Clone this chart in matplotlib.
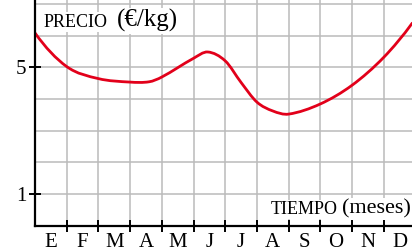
#!/usr/bin/env python3
import matplotlib
matplotlib.use('Agg')
import matplotlib.pyplot as plt
from matplotlib.path import Path
from matplotlib.patches import PathPatch

meses_pos = [0.0, 1.0, 2.0, 3.0, 3.6, 4.0, 5.0, 5.45, 6.0, 6.5,
             7.0, 7.5, 8.0, 9.0, 10.0, 11.0, 11.9]
precio = [6.08, 5.02, 4.64, 4.53, 4.54, 4.69, 5.28, 5.48, 5.20, 4.52,
          3.90, 3.62, 3.52, 3.84, 4.43, 5.31, 6.39]

meses = ['E', 'F', 'M', 'A', 'M', 'J', 'J', 'A', 'S', 'O', 'N', 'D']
y_ticks = [1, 5]


def smooth_path(xs, ys):
    """Hermite cubico por los puntos, como segmentos bezier."""
    n = len(xs)
    # pendientes interiores por diferencias centradas
    m = [0.0] * n
    for i in range(1, n - 1):
        m[i] = (ys[i + 1] - ys[i - 1]) / (xs[i + 1] - xs[i - 1])
    # extremos: pendiente "natural"
    m[0] = 2 * (ys[1] - ys[0]) / (xs[1] - xs[0]) - m[1]
    m[-1] = 2 * (ys[-1] - ys[-2]) / (xs[-1] - xs[-2]) - m[-2]

    verts = [(xs[0], ys[0])]
    codes = [Path.MOVETO]
    for i in range(n - 1):
        h = xs[i + 1] - xs[i]
        verts += [(xs[i] + h / 3, ys[i] + m[i] * h / 3),
                  (xs[i + 1] - h / 3, ys[i + 1] - m[i + 1] * h / 3),
                  (xs[i + 1], ys[i + 1])]
        codes += [Path.CURVE4] * 3
    return Path(verts, codes)


plt.rcParams['font.family'] = ['Liberation Serif', 'DejaVu Serif']

fig = plt.figure(figsize=(4.12, 2.52), dpi=100)
ax = fig.add_axes([35 / 412, 26.3 / 252, 377 / 412, 225.7 / 252])

x_max = 377 / 31.7
y_max = 225.7 / 31.7
ax.set_xlim(0, x_max)
ax.set_ylim(0, y_max)

# cuadricula
for i in range(1, 12):
    ax.axvline(i, color='#bbbbbb', lw=1.1, zorder=1)
for j in range(1, 8):
    ax.axhline(j, color='#bbbbbb', lw=1.1, zorder=1)

curva = PathPatch(smooth_path(meses_pos, precio), facecolor='none',
                  edgecolor='#e2001a', lw=2.0, zorder=3, capstyle='round')
ax.add_patch(curva)

for s in ['top', 'right']:
    ax.spines[s].set_visible(False)
for s in ['left', 'bottom']:
    ax.spines[s].set_linewidth(1.6)
    ax.spines[s].set_zorder(4)

ax.set_xticks(range(1, 12))
ax.set_xticklabels([])
ax.set_xticks([i + 0.5 for i in range(12)], minor=True)
ax.set_xticklabels(meses, minor=True, fontsize=15)
ax.tick_params(axis='x', which='major', direction='inout', length=8, width=1.4)
ax.tick_params(axis='x', which='minor', length=0, pad=5)

ax.set_yticks(y_ticks)
ax.set_yticklabels([str(v) for v in y_ticks], fontsize=15)
ax.tick_params(axis='y', direction='inout', length=8, width=1.4, pad=2)

caja = dict(facecolor='white', edgecolor='none', pad=1)
ax.text(0.28, 6.27, 'PRECIO', fontsize=13, va='baseline', ha='left', zorder=5, bbox=caja)
ax.text(2.59, 6.27, '(€/kg)', fontsize=18, va='baseline', ha='left', zorder=5, bbox=caja)
ax.text(7.44, 0.37, 'TIEMPO', fontsize=13, va='baseline', ha='left', zorder=5, bbox=caja)
ax.text(9.70, 0.37, '(meses)', fontsize=16, va='baseline', ha='left', zorder=5, bbox=caja)

fig.savefig('out.png', dpi=100)
